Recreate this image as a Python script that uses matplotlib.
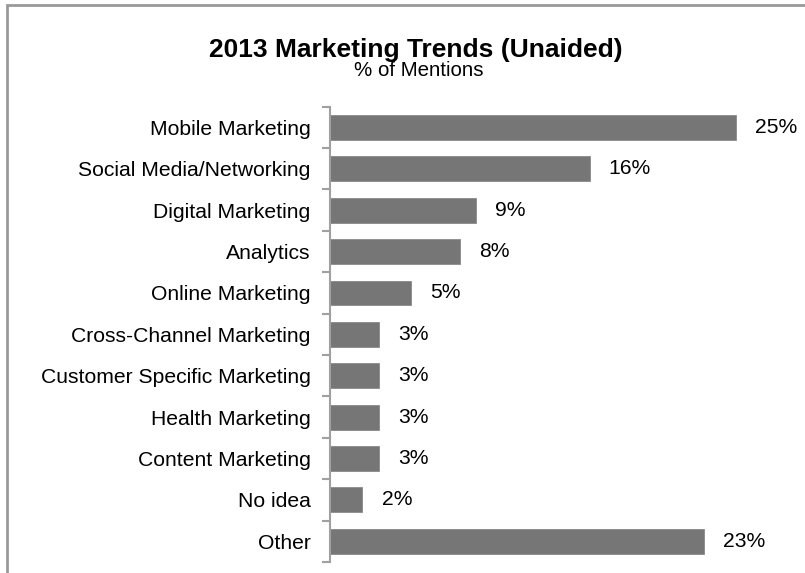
import matplotlib
matplotlib.use("Agg")
import matplotlib.pyplot as plt
from matplotlib.patches import Rectangle

plt.rcParams['font.family'] = ['Liberation Sans', 'DejaVu Sans']

categories = [
    "Mobile Marketing",
    "Social Media/Networking",
    "Digital Marketing",
    "Analytics",
    "Online Marketing",
    "Cross-Channel Marketing",
    "Customer Specific Marketing",
    "Health Marketing",
    "Content Marketing",
    "No idea",
    "Other",
]
values = [25, 16, 9, 8, 5, 3, 3, 3, 3, 2, 23]
value_labels = ["25%", "16%", "9%", "8%", "5%", "3%", "3%", "3%", "3%", "2%", "23%"]

title = "2013 Marketing Trends (Unaided)"
subtitle = "% of Mentions"

W, H = 805, 573
fig = plt.figure(figsize=(W / 100, H / 100), dpi=100)

# Slide frame around the chart
frame = Rectangle((7 / W, 0 - 0.05), 1.1, 1 - 5 / H + 0.05, transform=fig.transFigure,
                  fill=False, edgecolor="#999999", linewidth=2, clip_on=False)
fig.patches.append(frame)

# Axes area: spine at x=330px, rows span y=106.7..562px
ax_left, ax_right = 330, 330 + 28 * 16.24
ax_top, ax_bottom = 106.7, 562
ax = fig.add_axes([ax_left / W, 1 - ax_bottom / H, (ax_right - ax_left) / W, (ax_bottom - ax_top) / H])

n = len(categories)
ypos = list(range(n))
ax.barh(ypos, values, height=0.6, color="#767676", edgecolor="#8a8a8a", linewidth=0.6, zorder=2)

ax.set_xlim(0, 28)
ax.set_ylim(n - 0.5, -0.5)

for y, v, lab in zip(ypos, values, value_labels):
    ax.annotate(lab, xy=(v, y), xytext=(13.7, 0), textcoords="offset points",
                ha="left", va="center", fontsize=15.2, color="#000000")

for s in ["top", "right", "bottom"]:
    ax.spines[s].set_visible(False)
ax.spines["left"].set_color("#a0a0a0")
ax.spines["left"].set_linewidth(1.5)

ax.set_xticks([])
ax.set_yticks(ypos)
ax.set_yticklabels(categories, fontsize=15.2, color="#000000")
ax.tick_params(axis="y", which="major", length=0, pad=14)
ax.set_yticks([i - 0.5 for i in range(n + 1)], minor=True)
ax.tick_params(axis="y", which="minor", length=6, width=1.5, color="#a0a0a0")
ax.set_facecolor("none")

fig.text(416 / W, 1 - 57 / H, title, ha="center", va="baseline",
         fontsize=19, fontweight="bold", color="#000000")
fig.text(419 / W, 1 - 76 / H, subtitle, ha="center", va="baseline",
         fontsize=14.8, color="#000000")

fig.savefig("out.png", dpi=100)
